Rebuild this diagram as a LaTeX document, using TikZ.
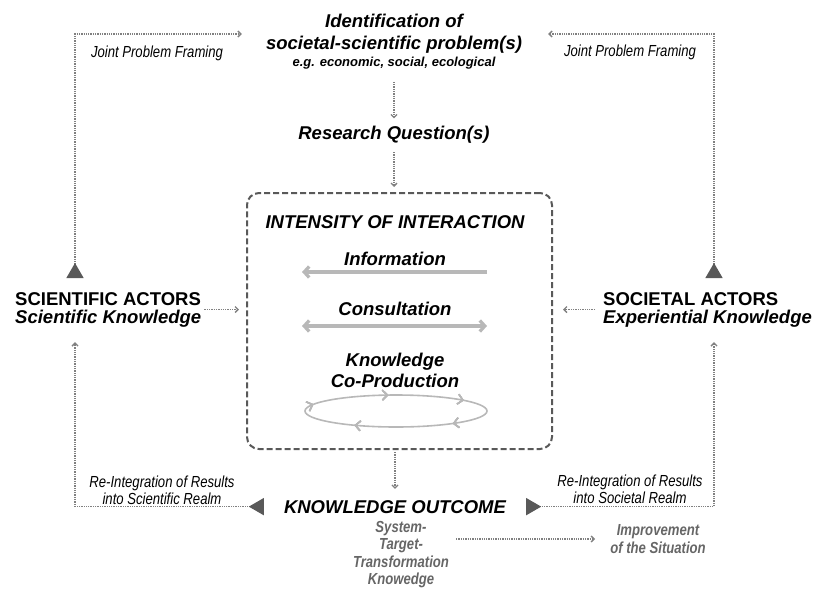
\documentclass[tikz,border=0pt]{standalone}
\usepackage{fontspec}
\setmainfont{Liberation Sans}
\newfontfamily\narrowsf[FakeStretch=0.82]{Liberation Sans}
\usetikzlibrary{arrows.meta,decorations.markings}

\definecolor{dotgray}{gray}{0.5}
\definecolor{tipgray}{gray}{0.35}
\definecolor{boxgray}{gray}{0.35}
\definecolor{palegray}{gray}{0.72}
\definecolor{textgray}{gray}{0.4}

\begin{document}
\begin{tikzpicture}[x=1pt,y=-1pt,inner sep=0pt,
  big/.style={font=\fontsize{18.5}{22}\selectfont\bfseries\itshape,align=center},
  actor/.style={font=\fontsize{18.5}{18}\selectfont\bfseries,align=left,anchor=north west},
  note/.style={font=\narrowsf\fontsize{16}{17}\selectfont\itshape,align=center},
  outnote/.style={font=\narrowsf\fontsize{16}{17.5}\selectfont\bfseries\itshape,align=center,text=textgray},
  flow/.style={draw=dotgray,line width=1.3pt,densely dotted,-{Straight Barb[length=3pt,width=6pt]}},
  loop/.style={flow,{Triangle[reversed,length=15pt,width=17pt,color=tipgray]}-{Straight Barb[length=3pt,width=6pt]}},
  level/.style={draw=palegray,line width=3.3pt,>={Straight Barb[length=5pt,width=11pt]}},
  turn/.style={postaction={decorate},decoration={markings,
     mark=at position #1 with {\arrow{Straight Barb[length=5pt,width=10pt,line width=1.5pt]}}}}]
 \useasboundingbox (0,0) rectangle (813,589);

 % problem and question
 \node[big] (prob) at (394,34) {Identification of\\societal-scientific problem(s)};
 \node[font=\fontsize{13}{15}\selectfont\bfseries\itshape,anchor=base] (eg) at (394,66) {e.g. economic, social, ecological};
 \node[big,anchor=base] (rq) at (394,139) {Research Question(s)};

 % interaction box
 \node[draw=boxgray,line width=2pt,dash pattern=on 6pt off 3pt,rounded corners=12pt,
   minimum width=305pt,minimum height=256pt] (box) at (399.5,321) {};
 \foreach \nm/\y/\lab in {inter/228/INTENSITY OF INTERACTION,info/265/Information,
   cons/315/Consultation,know/366/Knowledge,coprod/387/Co-Production}{%
   \node[big,anchor=base] (\nm) at (395,\y) {\lab};
 }
 \draw[level,->] (487,272) -- (302,272);
 \draw[level,<->] (302,326) -- (487,326);
 \draw[palegray,line width=1.6pt,turn=0.10,turn=0.36,turn=0.53,turn=0.73,turn=0.93]
   (396,411) ellipse[x radius=91,y radius=16];

 % actors
 \node[actor] (sci) at (15,292) {SCIENTIFIC ACTORS\\\textit{Scientific Knowledge}};
 \node[actor] (soc) at (603,292) {SOCIETAL ACTORS\\\textit{Experiential Knowledge}};
 \coordinate (sciline) at (75,0);
 \coordinate (socline) at (714,0);

 % outcome
 \node[big,anchor=base] (outcome) at (395,513) {KNOWLEDGE OUTCOME};
 \node[outnote,anchor=north] (kinds) at (401,521) {System-\\Target-\\Transformation\\Knowedge};
 \node[outnote] (better) at (658,539) {Improvement\\of the Situation};

 % labels on the loops
 \node[note,anchor=base] (jpfl) at (157,57) {Joint Problem Framing};
 \node[note,anchor=base] (jpfr) at (630,56) {Joint Problem Framing};
 \node[note,anchor=south] (rel) at (162,505) {Re-Integration of Results\\into Scientific Realm};
 \node[note,anchor=south] (rer) at (630,504) {Re-Integration of Results\\into Societal Realm};

 % arrows
 \draw[flow,shorten <=13pt,shorten >=7pt] (eg) -- (rq);
 \draw[flow,shorten <=9pt,shorten >=5pt] (rq) -- (rq |- box.north);
 \draw[flow,shorten <=2pt,shorten >=11pt] (outcome |- box.south) -- (outcome);
 \draw[flow,shorten <=3pt,shorten >=7pt] (sci.east) -- (box.west |- sci.east);
 \draw[flow,shorten <=8pt,shorten >=10pt] (soc.west) -- (box.east |- soc.west);
 \draw[flow,shorten <=7pt,shorten >=15pt] (kinds.east |- better.west) -- (better.west);
 \draw[loop,shorten <=14pt,shorten >=24pt] (sciline |- sci.north) |- (prob.west);
 \draw[loop,shorten <=14pt,shorten >=26pt] (socline |- soc.north) |- (prob.east);
 \draw[loop,shorten <=20pt,shorten >=15pt] (outcome.west) -| (sciline |- sci.south);
 \draw[loop,shorten <=20pt,shorten >=15pt] (outcome.east) -| (socline |- soc.south);
\end{tikzpicture}
\end{document}
